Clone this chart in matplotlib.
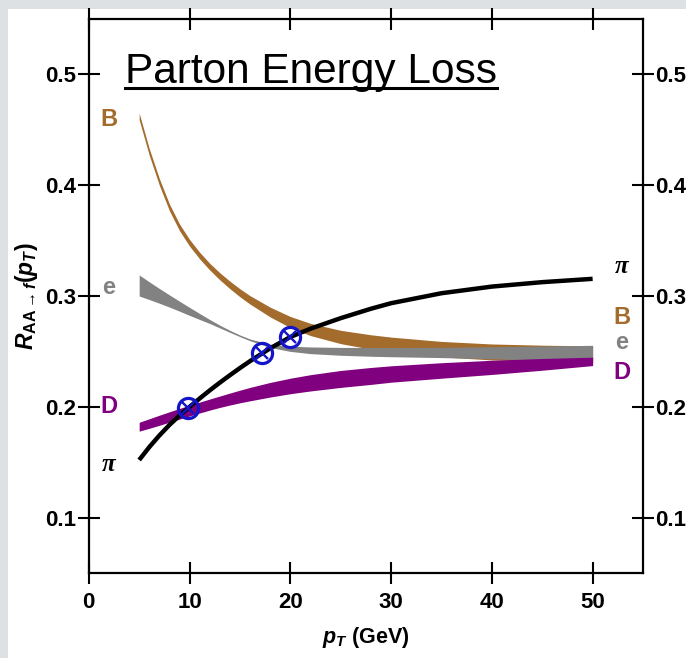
import matplotlib
matplotlib.use("Agg")
import matplotlib.pyplot as plt
from matplotlib.patches import Rectangle
from matplotlib.lines import Line2D

plt.rcParams['font.family'] = ['Liberation Sans', 'DejaVu Sans']
plt.rcParams['mathtext.fontset'] = 'custom'
plt.rcParams['mathtext.rm'] = 'Liberation Sans:bold'
plt.rcParams['mathtext.it'] = 'Liberation Sans:bold:italic'
plt.rcParams['mathtext.bf'] = 'Liberation Sans:bold'

# ---- data ----
pt = [5, 6, 7, 8, 9, 10, 11, 12, 13, 14, 15, 16, 18, 20, 22, 25, 28, 30, 35, 40, 45, 50]

B_lo = [.459, .427, .400, .377, .359, .345, .3335, .3235, .3146, .3066, .2993, .2927,
        .2811, .2715, .2643, .257, .252, .2495, .245, .2423, .2408, .240]
B_hi = [.465, .433, .406, .383, .365, .351, .3395, .3295, .321, .3134, .3065, .3003,
        .2899, .2815, .2753, .269, .265, .2629, .259, .2567, .2556, .255]

e_lo = [.300, .2968, .2935, .2900, .2863, .2825, .2788, .2752, .2712, .2672, .2633, .2596,
        .2535, .2500, .2480, .2465, .2456, .2452, .2444, .2434, .2420, .2400]
e_hi = [.319, .3128, .3068, .3010, .2953, .2897, .2842, .2788, .2737, .2690, .2648, .2612,
        .2565, .2547, .2540, .2536, .2535, .2535, .2537, .2542, .2548, .2555]

D_lo = [.178, .1806, .1833, .1861, .1889, .1917, .1944, .1970, .1994, .2016, .2036, .2054,
        .2088, .2118, .2143, .2175, .2202, .2222, .2258, .2292, .2330, .2372]
D_hi = [.186, .1892, .1924, .1955, .1985, .2014, .2042, .2070, .2097, .2124, .2150, .2175,
        .2220, .2258, .2290, .2328, .2355, .2370, .2398, .2420, .2436, .2448]

pi_R = [.152, .1636, .1741, .1836, .1921, .2000, .2075, .2148, .2218, .2285, .2350, .2412,
        .2528, .2630, .2705, .2800, .2885, .2935, .3025, .3085, .3125, .3155]

cross_x = [9.8, 17.2, 20.0]
cross_y = [0.1985, 0.2485, 0.2630]

xticks = [0, 10, 20, 30, 40, 50]
yticks = [0.1, 0.2, 0.3, 0.4, 0.5]

c_B = '#a36b2c'
c_e = '#828282'
c_D = '#800080'
c_circ = '#1414c8'

# ---- figure ----
fig = plt.figure(figsize=(6.86, 6.58), dpi=100)
fig.patch.set_facecolor('#dde1e4')
bg = Rectangle((8 / 686, 0), 1, 1 - 9 / 658, transform=fig.transFigure,
               facecolor='white', edgecolor='none', zorder=-10)
fig.patches.append(bg)
ax = fig.add_axes([88.8 / 686, 1 - 573 / 658, (643 - 88.8) / 686, (573 - 19) / 658])
ax.set_zorder(5)
ax.set_facecolor('white')

ax.fill_between(pt, B_lo, B_hi, color=c_B, lw=0, zorder=2)
ax.fill_between(pt, e_lo, e_hi, color=c_e, lw=0, zorder=3)
ax.fill_between(pt, D_lo, D_hi, color=c_D, lw=0, zorder=4)
ax.plot(pt, pi_R, color='black', lw=3.2, solid_capstyle='butt', solid_joinstyle='round', zorder=5)
ax.plot(cross_x, cross_y, ls='none', marker='o', ms=14.5, mfc='none', mec=c_circ, mew=2.3, zorder=6)
ax.plot(cross_x, cross_y, ls='none', marker='x', ms=9, mec=c_circ, mew=1.7, zorder=6)

ax.set_xlim(0, 55)
ax.set_ylim(0.05, 0.55)
ax.set_xticks(xticks)
ax.set_xticklabels([str(v) for v in xticks])
ax.set_yticks(yticks)
ax.set_yticklabels([f'{v:.1f}' for v in yticks])
for s in ax.spines.values():
    s.set_linewidth(1.6)
ax.tick_params(axis='both', which='both', direction='inout', length=16, width=1.5,
               labelsize=16, top=True, right=True, labelright=True)
ax.tick_params(axis='x', pad=6)
ax.tick_params(axis='y', pad=1)
for lab in ax.get_xticklabels() + ax.get_yticklabels():
    lab.set_fontweight('bold')

ax.set_xlabel(r'$p_T$ (GeV)', fontsize=15.5, fontweight='bold', labelpad=8)
ax.set_ylabel(r'$R_{\mathrm{AA}\rightarrow f}(p_T)$', fontsize=16.5, labelpad=4)

# labels
lab_kw = dict(fontsize=17, fontweight='bold', ha='center', va='center', zorder=7)
ax.text(2.0, 0.459, 'B', color=c_B, **lab_kw)
ax.text(2.0, 0.308, 'e', color=c_e, **lab_kw)
ax.text(2.0, 0.2005, 'D', color=c_D, **lab_kw)
ax.text(52.9, 0.2805, 'B', color=c_B, **lab_kw)
ax.text(52.9, 0.2578, 'e', color=c_e, **lab_kw)
ax.text(52.9, 0.2308, 'D', color=c_D, **lab_kw)
pi_kw = dict(fontsize=18, fontstyle='italic', fontweight='bold', family='Liberation Serif',
             ha='center', va='center', color='black', zorder=7)
ax.text(2.0, 0.1475, 'π', **pi_kw)
ax.text(52.9, 0.327, 'π', **pi_kw)

title = ax.text(3.6, 0.4925, 'Parton Energy Loss', fontsize=30.5, ha='left', va='baseline',
                color='black', zorder=7)
fig.canvas.draw()
bb = title.get_window_extent()
inv = fig.transFigure.inverted()
x0, _ = inv.transform((bb.x0, 0))
x1, _ = inv.transform((bb.x1, 0))
uy = 1 - 88 / 658
fig.lines.append(Line2D([x0, x1], [uy, uy], transform=fig.transFigure, color='black',
                        lw=2.2, zorder=20))

fig.savefig('out.png', dpi=100, facecolor=fig.get_facecolor())
